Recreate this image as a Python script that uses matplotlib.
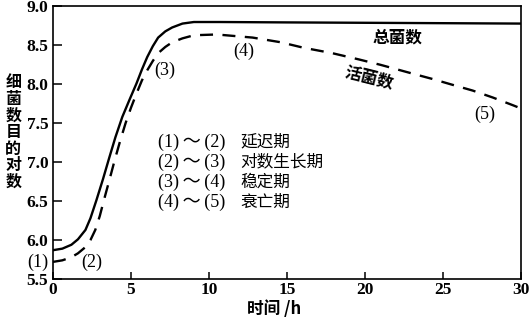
import matplotlib
matplotlib.use("Agg")
from matplotlib import pyplot as plt

SERIF = ['Liberation Serif', 'DejaVu Serif']
CJK = ['Noto Sans CJK SC', 'DejaVu Sans']
MIXED = ['Liberation Serif', 'Noto Sans CJK SC']

plt.rcParams['font.family'] = SERIF

# log10 of cell counts against time (h)
hours_total = [0, 0.6, 1.18, 1.6, 2.08, 2.4, 2.78, 3.2, 3.61, 4.0, 4.44, 4.9, 5.35, 5.7,
               6.04, 6.4, 6.74, 7.2, 7.64, 8.3, 9.03, 10.7, 15, 20, 25, 30]
log_total = [5.87, 5.89, 5.94, 6.01, 6.13, 6.28, 6.51, 6.78, 7.06, 7.32, 7.58, 7.80, 8.01, 8.19,
             8.35, 8.49, 8.60, 8.68, 8.73, 8.78, 8.80, 8.80, 8.795, 8.79, 8.785, 8.78]

hours_live = [0, 0.6, 1.18, 1.6, 2.08, 2.4, 2.71, 3.0, 3.26, 3.6, 3.96, 4.3, 4.65, 5.0, 5.35,
              5.7, 6.04, 6.4, 6.74, 7.2, 7.64, 8.3, 9.03, 10.5, 12.8, 14.6, 16.05, 17.9,
              19.6, 21.0, 23.0, 24.3, 25.5, 26.9, 28.2, 29.5, 30]
log_live = [5.72, 5.74, 5.78, 5.83, 5.91, 6.0, 6.13, 6.31, 6.51, 6.76, 7.03, 7.27, 7.50, 7.70, 7.88,
            8.05, 8.18, 8.30, 8.40, 8.48, 8.54, 8.59, 8.63, 8.64, 8.60, 8.54, 8.47, 8.40,
            8.32, 8.25, 8.14, 8.07, 8.00, 7.92, 7.83, 7.73, 7.69]

x_ticks = [0, 5, 10, 15, 20, 25, 30]
y_ticks = [5.5, 6.0, 6.5, 7.0, 7.5, 8.0, 8.5, 9.0]

phase_marks = ["(1)\u2009～\u2009(2)", "(2)\u2009～\u2009(3)", "(3)\u2009～\u2009(4)", "(4)\u2009～\u2009(5)"]
phase_names = ["延迟期", "对数生长期", "稳定期", "衰亡期"]

fig = plt.figure(figsize=(5.3, 3.22), dpi=100)
ax = fig.add_axes([0.1, 0.1335, 0.883, 0.8465])

ax.plot(hours_total, log_total, color='black', lw=1.7)
ax.plot(hours_live, log_live, color='black', lw=1.7, dashes=(5.5, 4.0))

ax.set_xlim(0, 30)
ax.set_ylim(5.5, 9.0)
ax.set_xticks(x_ticks)
ax.set_yticks(y_ticks)
ax.set_xticklabels([str(t) for t in x_ticks], fontsize=12.5, fontweight='bold')
ax.set_yticklabels(['%.1f' % t for t in y_ticks], fontsize=12.5, fontweight='bold')
ax.tick_params(axis='x', direction='in', length=5, width=1.1, pad=2)
ax.tick_params(axis='y', direction='in', length=6.5, width=1.1, pad=3.5)
for s in ax.spines.values():
    s.set_linewidth(1.2)

fig.text(0.517, 0.04, "时间 /h", family=CJK, fontsize=12, fontweight='bold',
         ha='center', va='center')
fig.text(0.025, 0.59, "\n".join("细菌数目的对数"), family=CJK, fontsize=11.5,
         fontweight='bold', ha='center', va='center', linespacing=1.05)

# stage markers along the curves
pts = dict(fontsize=13, ha='center', va='center')
ax.text(-0.96, 5.72, "(1)", clip_on=False, **pts)
ax.text(2.5, 5.71, "(2)", **pts)
ax.text(7.18, 8.18, "(3)", **pts)
ax.text(12.2, 8.42, "(4)", **pts)
ax.text(27.7, 7.61, "(5)", **pts)

ax.text(22.05, 8.60, "总菌数", family=CJK, fontsize=12, fontweight='bold', ha='center', va='center')
ax.text(20.3, 8.08, "活菌数", family=CJK, fontsize=12, fontweight='bold', ha='center', va='center',
        rotation=-14)

for i, (mark, name) in enumerate(zip(phase_marks, phase_names)):
    y = 7.26 - i * 0.257
    ax.text(6.73, y, mark, family=MIXED, fontsize=13, ha='left', va='center')
    ax.text(12.0, y, name, family=CJK, fontsize=12, ha='left', va='center')

fig.savefig("out.png", dpi=100)
